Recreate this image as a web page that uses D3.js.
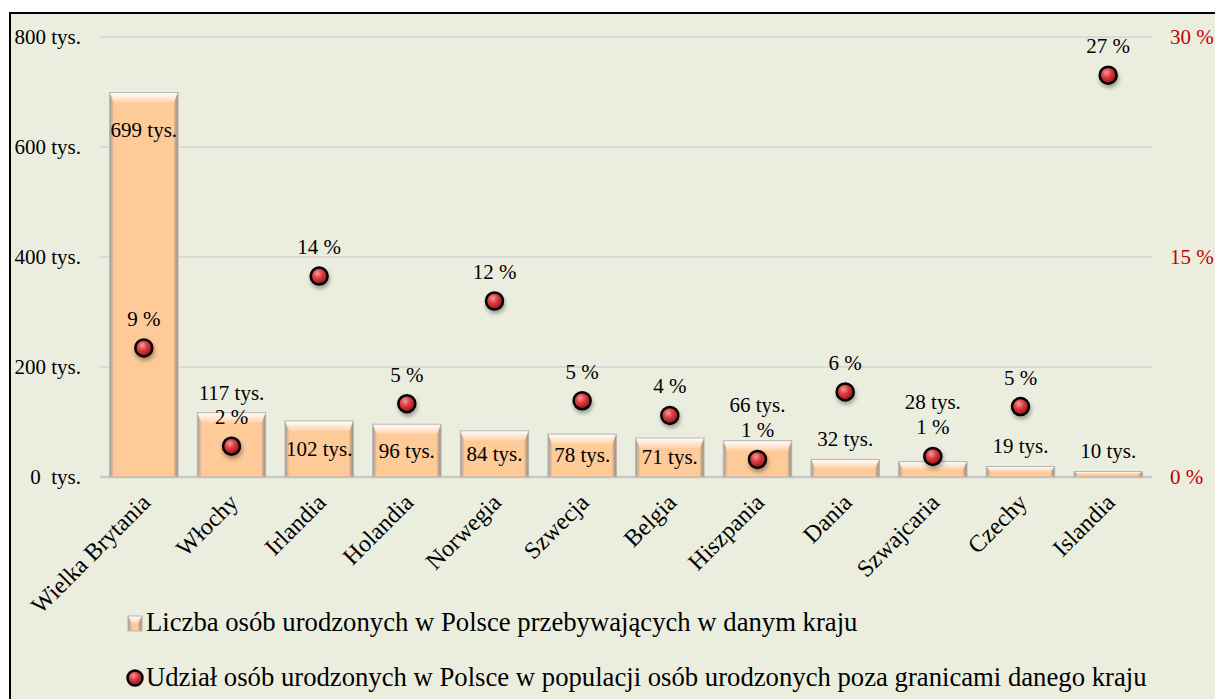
<!DOCTYPE html>
<html>
<head>
<meta charset="utf-8">
<script src="https://cdn.jsdelivr.net/npm/d3@7"></script>
<style>
  body { margin: 0; background: #fff; }
  text { font-family: "Liberation Serif", "Times New Roman", serif; }
</style>
</head>
<body>
<script>
// Data
var countries = ["Wielka Brytania", "Włochy", "Irlandia", "Holandia", "Norwegia", "Szwecja",
                 "Belgia", "Hiszpania", "Dania", "Szwajcaria", "Czechy", "Islandia"];
var counts = [699, 117, 102, 96, 84, 78, 71, 66, 32, 28, 19, 10];            // tys.
var shares = [8.8, 2.1, 13.7, 5.0, 12.0, 5.2, 4.2, 1.2, 5.8, 1.4, 4.8, 27.4]; // %
var leftTicks = [0, 200, 400, 600, 800];
var rightTicks = [0, 15, 30];
var seriesNames = ["Liczba osób urodzonych w Polsce przebywających w danym kraju",
                   "Udział osób urodzonych w Polsce w populacji osób urodzonych poza granicami danego kraju"];
// where the count label sits relative to its bar (Excel moved some of them)
var countLabelPlace = ["insideTop", "above", "center", "center", "center", "center",
                       "center", "abovePct", "above", "abovePct", "above", "above"];

var data = countries.map(function(c, i) {
    return { country: c, count: counts[i], share: shares[i], place: countLabelPlace[i] };
});

// Dimensions
var w = 1215, h = 699;
var plot = { left: 100, right: 1152, top: 37, bottom: 477 };

var svg = d3.select("body").append("svg")
    .attr("width", w)
    .attr("height", h);

var defs = svg.append("defs");

// gradients for the bevelled bars
var gTop = defs.append("linearGradient").attr("id", "bevelTop")
    .attr("x1", 0).attr("y1", 0).attr("x2", 0).attr("y2", 1);
gTop.append("stop").attr("offset", "0%").attr("stop-color", "#ffffff");
gTop.append("stop").attr("offset", "100%").attr("stop-color", "#fdd3a8");

var gLeft = defs.append("linearGradient").attr("id", "bevelLeft")
    .attr("x1", 0).attr("y1", 0).attr("x2", 1).attr("y2", 0);
gLeft.append("stop").attr("offset", "0%").attr("stop-color", "#9c9c9c");
gLeft.append("stop").attr("offset", "100%").attr("stop-color", "#f3c495");

var gRight = defs.append("linearGradient").attr("id", "bevelRight")
    .attr("x1", 0).attr("y1", 0).attr("x2", 1).attr("y2", 0);
gRight.append("stop").attr("offset", "0%").attr("stop-color", "#e8b888");
gRight.append("stop").attr("offset", "100%").attr("stop-color", "#8e8e8e");

// red ball gradient
var gBall = defs.append("radialGradient").attr("id", "ball")
    .attr("cx", "40%").attr("cy", "35%").attr("r", "65%");
gBall.append("stop").attr("offset", "0%").attr("stop-color", "#f59a9a");
gBall.append("stop").attr("offset", "45%").attr("stop-color", "#d93c40");
gBall.append("stop").attr("offset", "100%").attr("stop-color", "#9a1218");

var shadow = defs.append("filter").attr("id", "shadow")
    .attr("x", "-50%").attr("y", "-50%").attr("width", "200%").attr("height", "200%");
shadow.append("feDropShadow")
    .attr("dx", 1).attr("dy", 3).attr("stdDeviation", 2)
    .attr("flood-color", "#000").attr("flood-opacity", 0.35);

// Chart area background + frame
svg.append("rect")
    .attr("x", 10).attr("y", 13)
    .attr("width", w).attr("height", h)
    .style("fill", "#ebeedf")
    .style("stroke", "#000")
    .style("stroke-width", 2);

// Scales
var x = d3.scaleBand()
    .domain(countries)
    .range([plot.left, plot.right])
    .paddingInner(0.22)
    .paddingOuter(0.11);

var y = d3.scaleLinear()
    .domain([0, 800])
    .range([plot.bottom, plot.top]);

var y2 = d3.scaleLinear()
    .domain([0, 30])
    .range([plot.bottom, plot.top]);

var pctFmt = d3.format(".0f");

// Gridlines
svg.append("g").selectAll("line")
    .data(leftTicks)
    .enter().append("line")
    .attr("x1", plot.left).attr("x2", plot.right)
    .attr("y1", d => y(d)).attr("y2", d => y(d))
    .style("stroke", d => d === 0 ? "#c9c9c9" : "#d9d9d9")
    .style("stroke-width", d => d === 0 ? 2.5 : 2);

// Left axis labels
svg.append("g").selectAll("text")
    .data(leftTicks)
    .enter().append("text")
    .attr("x", 81)
    .attr("y", d => y(d))
    .attr("dy", "0.33em")
    .attr("text-anchor", "end")
    .style("font-size", "21px")
    .style("white-space", "pre")
    .attr("xml:space", "preserve")
    .text(d => d === 0 ? "0  tys." : d + " tys.");

// Right axis labels
svg.append("g").selectAll("text")
    .data(rightTicks)
    .enter().append("text")
    .attr("x", 1170)
    .attr("y", d => y2(d))
    .attr("dy", "0.33em")
    .style("font-size", "21px")
    .style("fill", "#c00000")
    .text(d => d + " %");

// Bevelled bar drawing
function bevelBar(g, bx, by, bw, bh) {
    var t = Math.min(10, bh / 2), s = Math.min(4, bw / 2);
    g.append("rect")
        .attr("x", bx).attr("y", by).attr("width", bw).attr("height", bh)
        .style("fill", "#fdca98");
    g.append("polygon")
        .attr("points", [[bx, by], [bx + bw, by], [bx + bw - s, by + t], [bx + s, by + t]].join(" "))
        .style("fill", "url(#bevelTop)");
    g.append("polygon")
        .attr("points", [[bx, by], [bx + s, by + t], [bx + s, by + bh - 1], [bx, by + bh]].join(" "))
        .style("fill", "url(#bevelLeft)");
    g.append("polygon")
        .attr("points", [[bx + bw, by], [bx + bw, by + bh], [bx + bw - s, by + bh - 1], [bx + bw - s, by + t]].join(" "))
        .style("fill", "url(#bevelRight)");
    g.append("rect")
        .attr("x", bx).attr("y", by).attr("width", bw).attr("height", bh)
        .style("fill", "none")
        .style("stroke", "#b5b5b5")
        .style("stroke-width", 1);
}

// Bars
var bars = svg.append("g").selectAll("g")
    .data(data)
    .enter().append("g")
    .attr("class", "bar");

bars.each(function(d) {
    bevelBar(d3.select(this), x(d.country), y(d.count), x.bandwidth(), y(0) - y(d.count));
});

// Markers
var cx = d => x(d.country) + x.bandwidth() / 2;

svg.append("g").selectAll("circle")
    .data(data)
    .enter().append("circle")
    .attr("cx", cx)
    .attr("cy", d => y2(d.share))
    .attr("r", 8.5)
    .style("fill", "url(#ball)")
    .style("stroke", "#000")
    .style("stroke-width", 2.5)
    .attr("filter", "url(#shadow)");

// Share labels (centre 29px above marker)
var pctCenter = d => y2(d.share) - 29;

svg.append("g").selectAll("text")
    .data(data)
    .enter().append("text")
    .attr("x", cx)
    .attr("y", pctCenter)
    .attr("dy", "0.33em")
    .attr("text-anchor", "middle")
    .style("font-size", "21px")
    .text(d => pctFmt(d.share) + " %");

// Count labels
function countY(d) {
    var top = y(d.count);
    if (d.place === "insideTop") return top + 38;
    if (d.place === "above") return top - 20;
    if (d.place === "abovePct") return pctCenter(d) - 25;
    return (top + y(0)) / 2;
}

svg.append("g").selectAll("text")
    .data(data)
    .enter().append("text")
    .attr("x", cx)
    .attr("y", countY)
    .attr("dy", "0.33em")
    .attr("text-anchor", "middle")
    .style("font-size", "21px")
    .text(d => d.count + " tys.");

// Category labels, rotated
svg.append("g").selectAll("text")
    .data(countries)
    .enter().append("text")
    .attr("transform", d => "translate(" + (x(d) + x.bandwidth() / 2 + 8) + "," + 504 + ") rotate(-45)")
    .attr("text-anchor", "end")
    .style("font-size", "24px")
    .text(d => d);

// Legend
var legend = svg.append("g").attr("class", "legend");

bevelBar(legend.append("g"), 128, 616, 14, 15);
legend.append("text")
    .attr("x", 146).attr("y", 631)
    .style("font-size", "26.7px")
    .text(seriesNames[0]);

legend.append("circle")
    .attr("cx", 135).attr("cy", 678)
    .attr("r", 7.5)
    .style("fill", "url(#ball)")
    .style("stroke", "#000")
    .style("stroke-width", 2.5);
legend.append("text")
    .attr("x", 146).attr("y", 686)
    .style("font-size", "26.7px")
    .text(seriesNames[1]);
</script>
</body>
</html>
